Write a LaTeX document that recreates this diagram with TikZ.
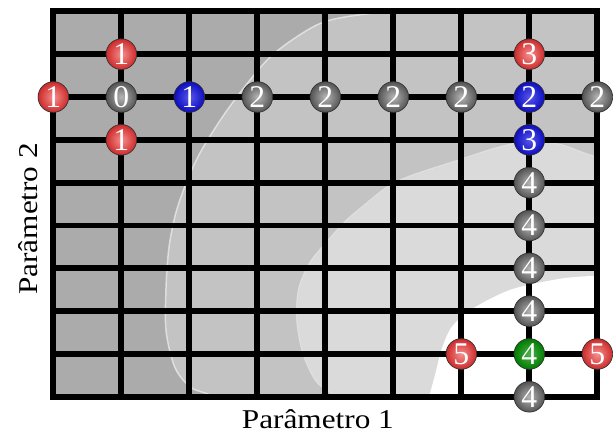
\documentclass[tikz,border=0pt]{standalone}
\usepackage{fontspec}
\newfontfamily\labelfont[FakeStretch=1.15]{Liberation Serif}
\newfontfamily\digitfont{Liberation Serif}
\usepackage{tikz}

\definecolor{darkzone}{gray}{0.67}
\definecolor{midzone}{gray}{0.765}
\definecolor{lightzone}{gray}{0.855}
\definecolor{probered}{RGB}{240,50,50}
\definecolor{probeblue}{RGB}{15,15,225}
\definecolor{probegreen}{RGB}{0,145,0}
\definecolor{probegrey}{RGB}{120,120,120}

\begin{document}
\begin{tikzpicture}[x=68.8pt,y=-43.33pt,
  gridline/.style={line width=6pt},
  probe/.style={circle,inner sep=0,minimum size=31pt,draw=black!80,line width=0.7pt,
    shade,text=white,font=\digitfont\fontsize{32}{32}\selectfont},
  greyprobe/.style={probe,inner color=probegrey!55!white,outer color=probegrey!70!black},
  redprobe/.style={probe,inner color=probered!55!white,outer color=probered!85!black},
  blueprobe/.style={probe,inner color=probeblue!70!white,outer color=probeblue!85!black},
  greenprobe/.style={probe,inner color=probegreen!70!white,outer color=probegreen!85!black},
  axislabel/.style={anchor=base,font=\labelfont\fontsize{27.5}{30}\selectfont}]
  % cost landscape behind the grid, in pixel-like units
  \begin{scope}[x=1pt,y=-1pt,shift={(-54pt,11.5pt)}]
    \useasboundingbox (0,0) rectangle (613,441);
    \clip (54,11.5) rectangle (604.5,401.5);
    \fill[darkzone] (54,11.5) rectangle (604.5,401.5);
    \path[fill=midzone,draw=white,draw opacity=0.55,line width=1.5pt]
      plot[smooth] coordinates {(235,420) (215,401) (193,392) (177,372) (168,335)
        (168,290) (171,250) (178,215) (190,181) (205,150) (233,107) (273,58)
        (317,27) (350,17) (420,9) (500,5) (640,0)} -- (640,420) -- cycle;
    \path[fill=lightzone,draw=white,draw opacity=0.3,line width=1pt]
      plot[smooth] coordinates {(640,158) (603,158) (567,146) (533,143) (500,150)
        (460,163) (417,177) (393,188) (370,206) (350,223) (330,245) (313,266)
        (302,292) (300,323) (306,357) (319,385) (337,400) (360,420)} -- (640,420) -- cycle;
    \fill[white]
      plot[smooth] coordinates {(640,278) (603,279) (567,282) (517,293) (477,313)
        (457,331) (447,353) (440,380) (434,402) (430,420)} -- (640,420) -- cycle;
  \end{scope}
  % the grid
  \draw[gridline] (0,0) rectangle (8,9);
  \foreach \i in {1,...,7}
    \draw[gridline] (\i,0) -- (\i,9);
  \foreach \j in {1,...,8}
    \draw[gridline] (0,\j) -- (8,\j);
  % evaluated points
  \node[greyprobe] (start) at (1,2) {0};
  \node[redprobe] (r1w) at (0,2) {1};
  \node[redprobe] (r1n) at (1,1) {1};
  \node[redprobe] (r1s) at (1,3) {1};
  \node[blueprobe] (b1) at (2,2) {1};
  \foreach \i in {3,...,6}
    \node[greyprobe] (g2-\i) at (\i,2) {2};
  \node[blueprobe] (b2) at (7,2) {2};
  \node[greyprobe] (g2-8) at (8,2) {2};
  \node[redprobe] (r3) at (7,1) {3};
  \node[blueprobe] (b3) at (7,3) {3};
  \foreach \j in {4,...,7}
    \node[greyprobe] (g4-\j) at (7,\j) {4};
  \node[greenprobe] (best) at (7,8) {4};
  \node[greyprobe] (g4-9) at (7,9) {4};
  \node[redprobe] (r5w) at (6,8) {5};
  \node[redprobe] (r5e) at (8,8) {5};
  % axes
  \node[axislabel] (p1) at (3.89,9.751) {Parâmetro 1};
  \node[axislabel,rotate=90] (p2) at (-0.2326,4.846) {Parâmetro 2};
\end{tikzpicture}
\end{document}
